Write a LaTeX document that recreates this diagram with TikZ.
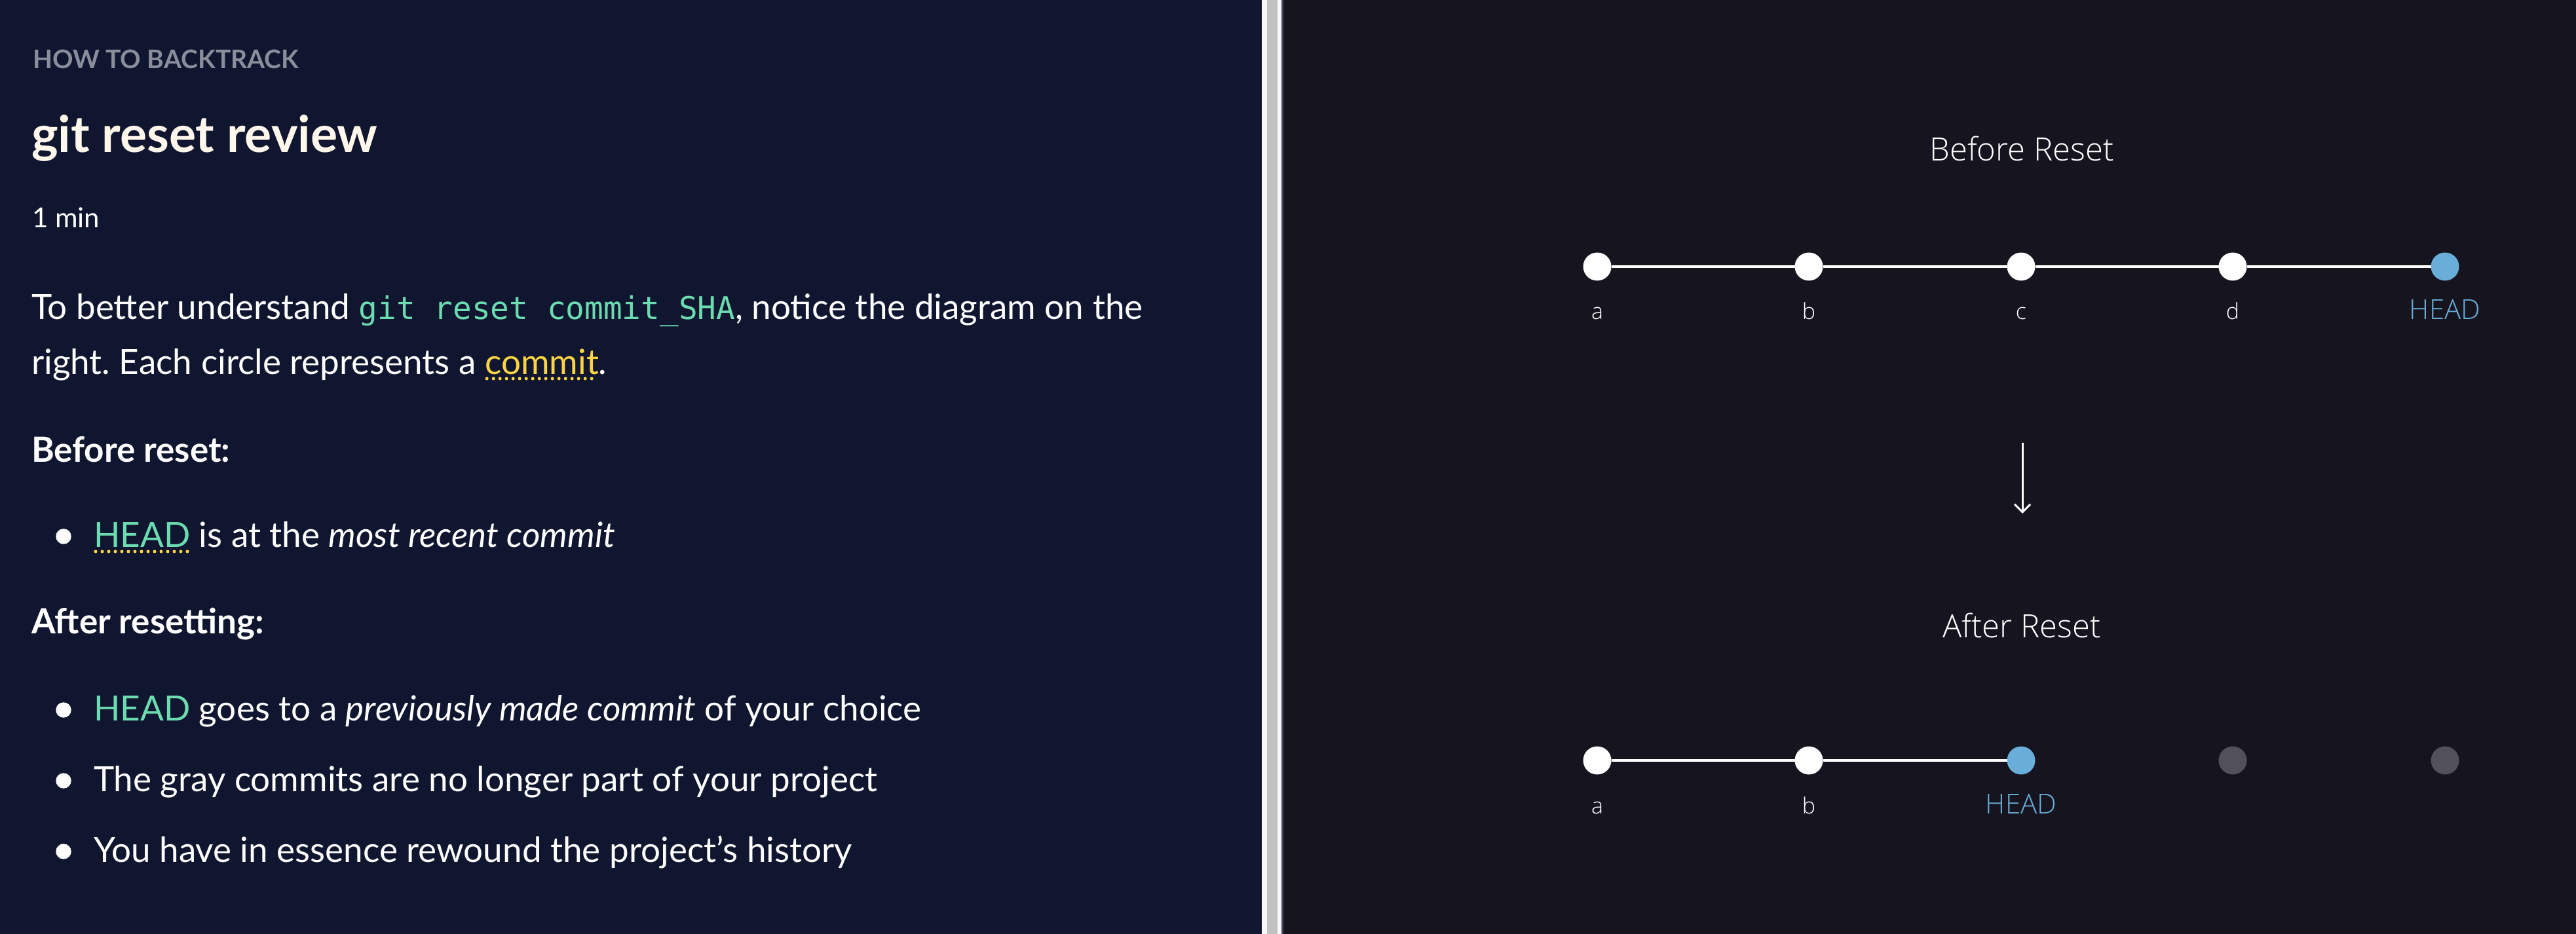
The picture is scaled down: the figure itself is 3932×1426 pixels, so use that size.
\documentclass[tikz,border=0pt]{standalone}
\usepackage{fontspec}
\usetikzlibrary{arrows.meta}
\setmainfont{Lato}
\newfontfamily\monofam{DejaVu Sans Mono}
\newfontfamily\rfam{Open Sans Light}
\definecolor{navy}{HTML}{10162F}
\definecolor{panelR}{HTML}{16141F}
\definecolor{divA}{HTML}{F8F8F8}
\definecolor{divB}{HTML}{C1C1C1}
\definecolor{divC}{HTML}{4A4A5E}
\definecolor{mint}{HTML}{6DDBB0}
\definecolor{gold}{HTML}{FAD444}
\definecolor{headblue}{HTML}{69AED8}
\definecolor{cream}{HTML}{FFF7EC}
\definecolor{kicker}{HTML}{8A8D9B}
\definecolor{ghost}{HTML}{525059}
\newlength{\spw}
\newlength{\spwb}
\newcommand{\bodyfont}{\fontsize{53}{64}\selectfont}
\frenchspacing
\begin{document}
\settowidth{\spw}{\bodyfont a b}%
\settowidth{\spwb}{\bodyfont ab}%
\addtolength{\spw}{-\spwb}%
\begin{tikzpicture}[x=1pt,y=-1pt,
  every node/.style={inner sep=0pt,outer sep=0pt},
  body/.style={anchor=base west,text=white,font=\bodyfont},
  subhead/.style={anchor=base west,text=white,font=\bodyfont\bfseries},
  bulletdot/.style={circle,fill=white,minimum size=23.4pt},
  dotline/.style={gold,line width=5pt,line cap=round,dash pattern=on 0pt off 10pt},
  commitw/.style={circle,fill=white,minimum size=43pt},
  commith/.style={circle,fill=headblue,minimum size=43pt},
  commitg/.style={circle,fill=ghost,minimum size=43pt},
  cline/.style={white,line width=3.5pt},
  ctitle/.style={anchor=base,text=white,font=\rfam\fontsize{49}{59}\selectfont},
  clabel/.style={anchor=base,text=white,font=\rfam\fontsize{34}{41}\selectfont},
  hlabel/.style={anchor=base,text=headblue,font=\rfam\fontsize{42}{50}\selectfont},
  arr/.style={white,line width=3pt,-{Straight Barb[length=12pt,width=24pt,line width=3pt]}}
]
\useasboundingbox (0,0) rectangle (3932,1426);
% backgrounds
\fill[navy] (0,0) rectangle (1926,1426);
\fill[panelR] (1959,0) rectangle (3932,1426);
\fill[divA] (1926,0) rectangle (1934,1426);
\fill[divB] (1934,0) rectangle (1950,1426);
\fill[divA] (1950,0) rectangle (1956,1426);
\fill[divC] (1956,0) rectangle (1959,1426);
% left panel text
\node[anchor=base west,text=kicker,font=\fontsize{39}{47}\selectfont\bfseries] (kick) at (50,105) {HOW TO BACKTRACK};
\node[anchor=base west,text=cream,font=\fontsize{77}{92}\selectfont\bfseries] (title) at (48,232) {git reset review};
\node[anchor=base west,text=white,font=\fontsize{42}{50}\selectfont] (mins) at (49,347) {1 min};
\node[body] (p1) at (48,487) {To better understand {\color{mint}\monofam\fontsize{47.7}{57}\selectfont git reset commit\_SHA}, notice the diagram on the};
\node[body] (p2a) at (48,571) {right. Each circle represents a};
\node[body,text=gold] (p2b) at ([xshift=\spw]p2a.base east) {commit};
\node[body] (p2c) at (p2b.base east) {.};
\draw[dotline] ([xshift=3pt,yshift=-7pt]p2b.base west) -- ([xshift=-2pt,yshift=-7pt]p2b.base east);
\node[subhead] (bef) at (48,705) {Before reset:};
\node[bulletdot] (d1) at (97,819) {};
\node[body,text=mint] (b1a) at (143,835) {HEAD};
\node[body] (b1b) at ([xshift=\spw]b1a.base east) {is at the \textit{most recent commit}};
\draw[dotline] ([xshift=3pt,yshift=-7pt]b1a.base west) -- ([xshift=-2pt,yshift=-7pt]b1a.base east);
\node[subhead] (aft) at (48,967) {After resetting:};
\node[bulletdot] (d2) at (97,1084) {};
\node[body] (b2) at (143,1100) {{\color{mint}HEAD} goes to a \textit{previously made commit} of your choice};
\node[bulletdot] (d3) at (97,1192) {};
\node[body] (b3) at (143,1208) {The gray commits are no longer part of your project};
\node[bulletdot] (d4) at (97,1300) {};
\node[body] (b4) at (143,1316) {You have in essence rewound the project’s history};
% right panel: before
\node[ctitle] (tbefore) at (3086,245) {Before Reset};
\node[commitw] (ba) at (2438,407) {};
\node[commitw] (bb) at (2761,407) {};
\node[commitw] (bc) at (3085,407) {};
\node[commitw] (bd) at (3408,407) {};
\node[commith] (be) at (3732,407) {};
\draw[cline] (ba) -- (bb);
\draw[cline] (bb) -- (bc);
\draw[cline] (bc) -- (bd);
\draw[cline] (bd) -- (be);
\node[clabel] (lba) at (2438,487) {a};
\node[clabel] (lbb) at (2761,487) {b};
\node[clabel] (lbc) at (3085,487) {c};
\node[clabel] (lbd) at (3408,487) {d};
\node[hlabel] (lbe) at (3732,487) {HEAD};
% arrow
\coordinate (arrS) at (3087,676);
\coordinate (arrE) at (3087,784);
\draw[arr] (arrS) -- (arrE);
% right panel: after
\node[ctitle] (tafter) at (3086,973) {After Reset};
\node[commitw] (aa) at (2438,1161) {};
\node[commitw] (ab) at (2761,1161) {};
\node[commith] (ac) at (3085,1161) {};
\node[commitg] (ad) at (3408,1161) {};
\node[commitg] (ae) at (3732,1161) {};
\draw[cline] (aa) -- (ab);
\draw[cline] (ab) -- (ac);
\node[clabel] (laa) at (2438,1242) {a};
\node[clabel] (lab) at (2761,1242) {b};
\node[hlabel] (lac) at (3085,1242) {HEAD};
\end{tikzpicture}
\end{document}
